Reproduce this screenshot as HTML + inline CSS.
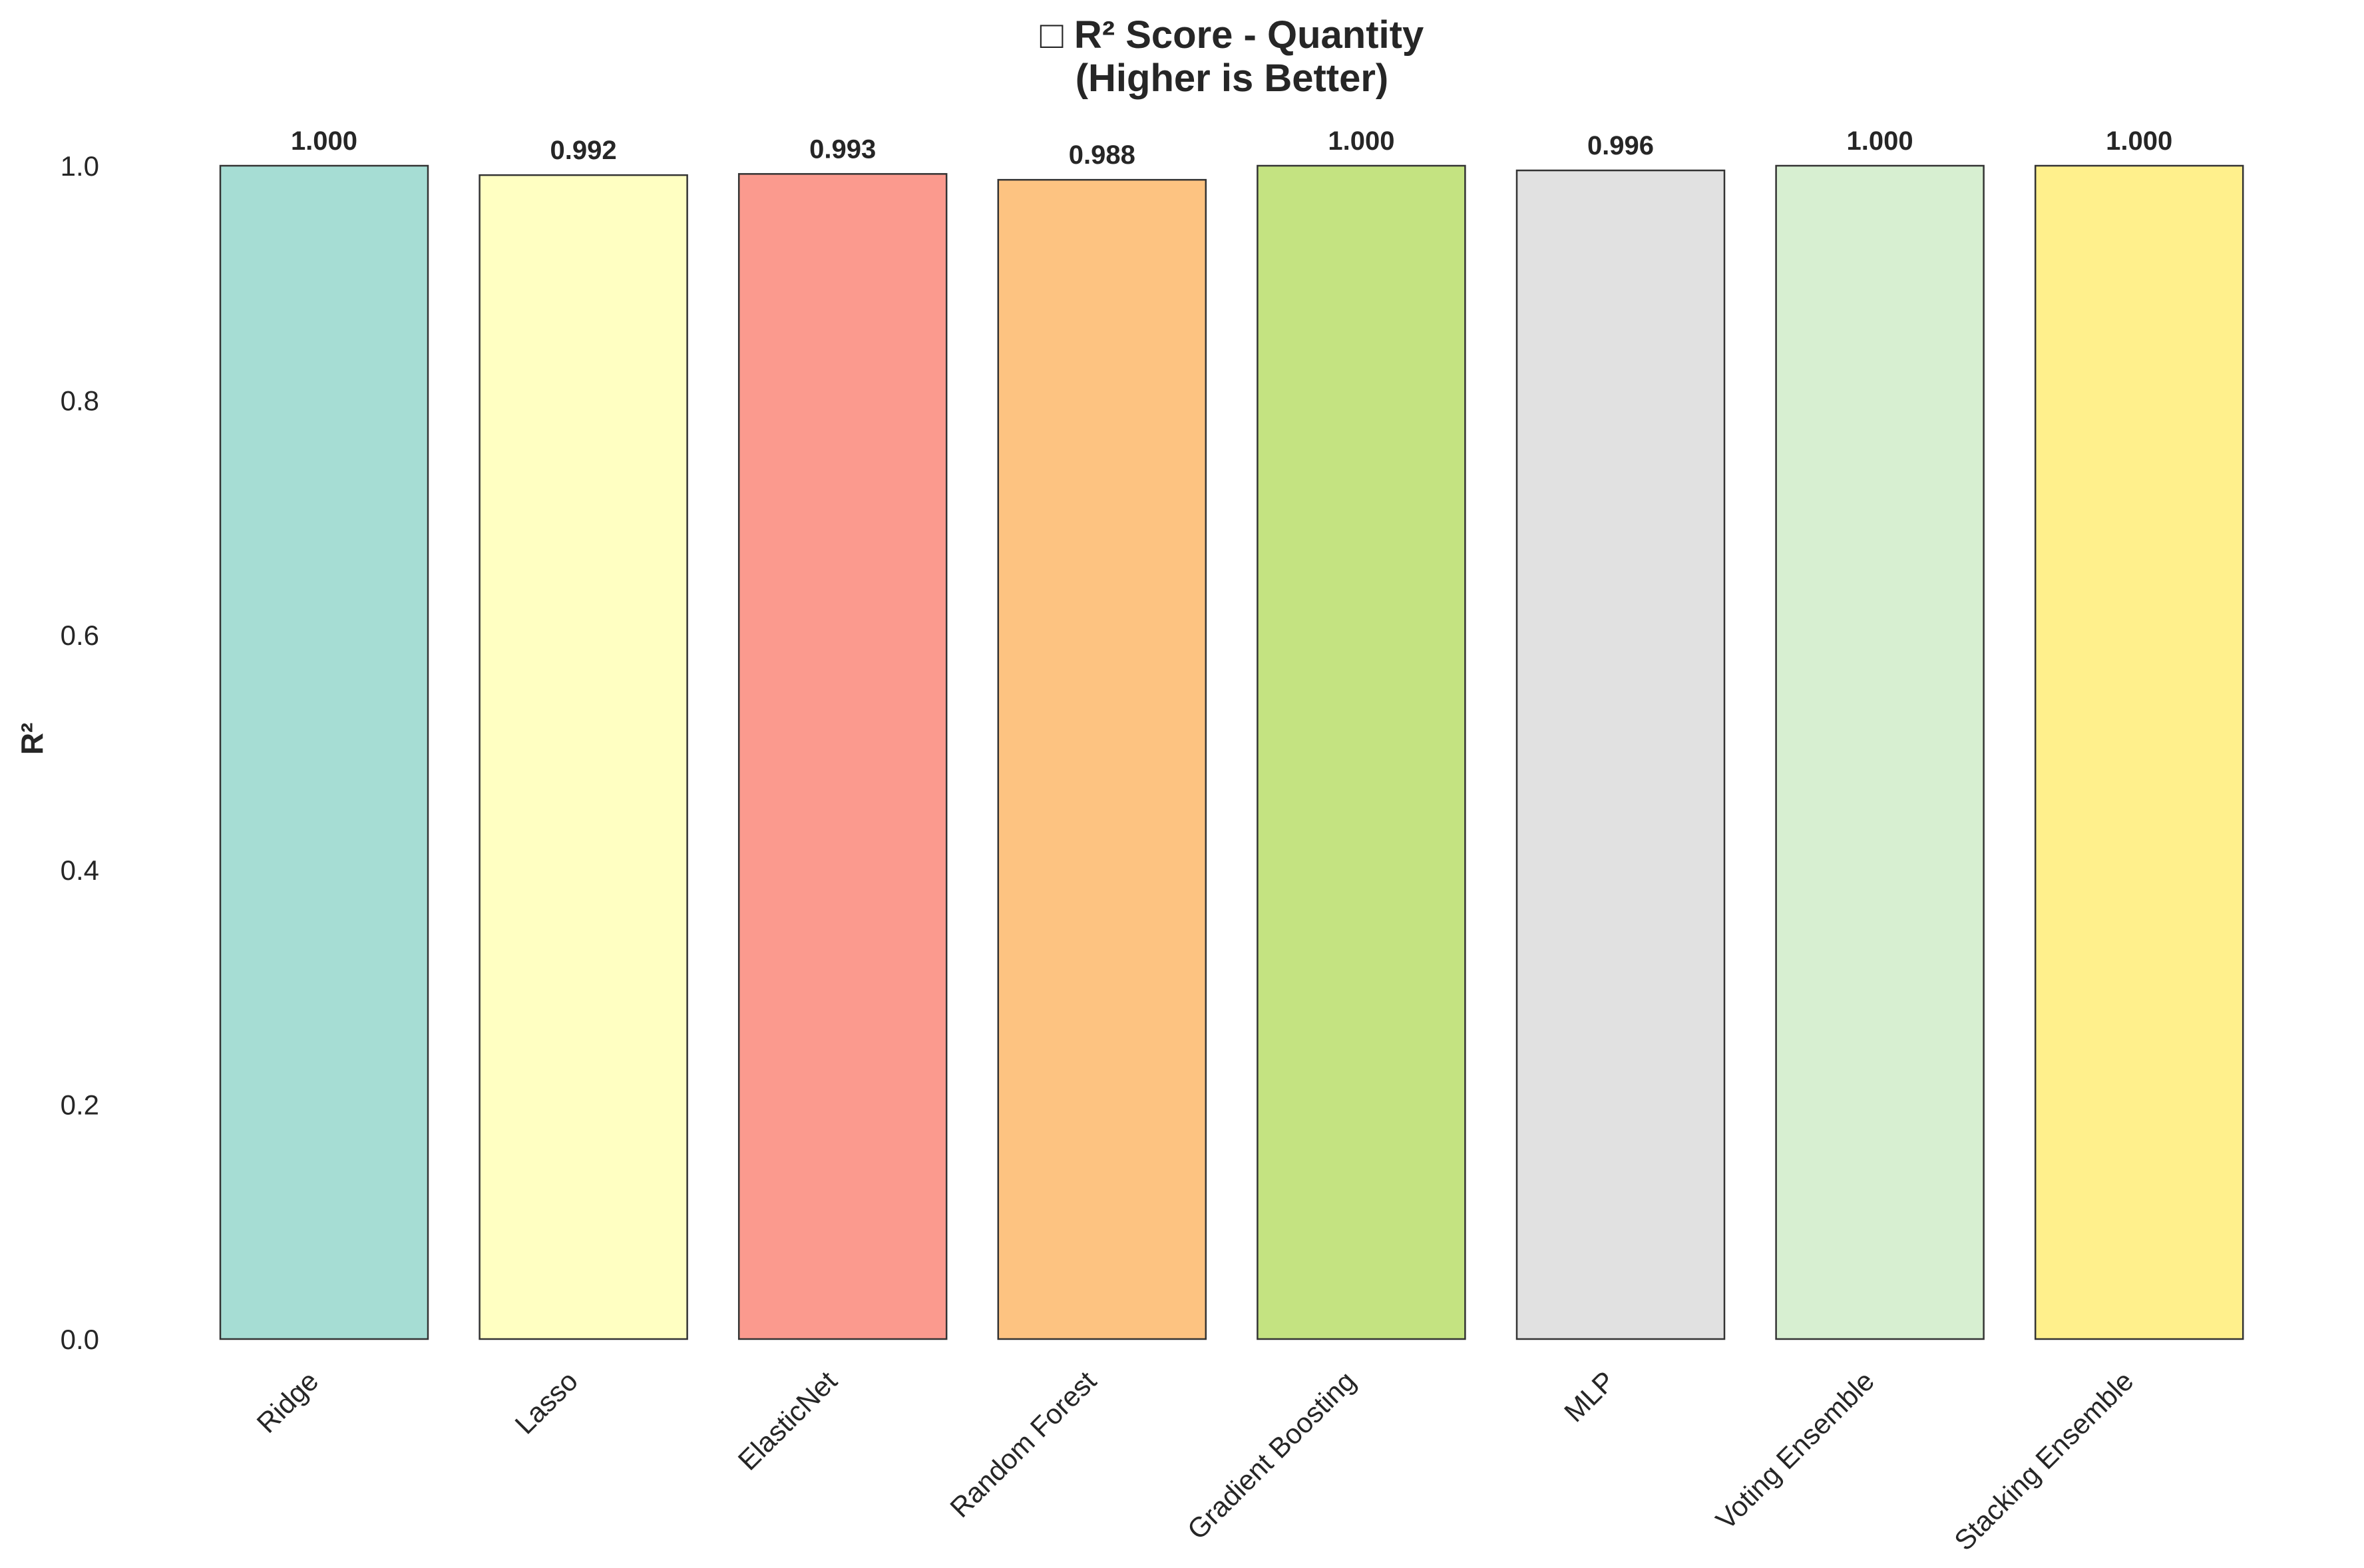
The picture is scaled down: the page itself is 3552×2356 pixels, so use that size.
<!DOCTYPE html>
<html><head><meta charset="utf-8"><style>
html,body{margin:0;padding:0;background:#fff;}
svg text{font-family:"Liberation Sans","DejaVu Sans",sans-serif;fill:#262626;}
</style></head><body>
<svg id="chart" width="3552" height="2351" viewBox="0 0 3552 2351" xmlns="http://www.w3.org/2000/svg">
<rect width="3552" height="2351" fill="#fff"/>
<text x="1851" y="72" text-anchor="middle" font-size="58" font-weight="bold">□ R² Score - Quantity</text>
<text x="1851" y="137" text-anchor="middle" font-size="58" font-weight="bold">(Higher is Better)</text>
<text transform="translate(64,1110) rotate(-90)" text-anchor="middle" font-size="46" font-weight="bold">R²</text>
<g id="yticks"></g>
<g id="bars"></g>
<g id="xlabels"></g>
</svg>
<script>
const categories = ["Ridge","Lasso","ElasticNet","Random Forest","Gradient Boosting","MLP","Voting Ensemble","Stacking Ensemble"];
const values = [1.000,0.992,0.993,0.988,1.000,0.996,1.000,1.000];
const valueLabels = ["1.000","0.992","0.993","0.988","1.000","0.996","1.000","1.000"];
const colors = ["#a6ddd4","#ffffc2","#fb9a8e","#fdc381","#c4e381","#e1e1e1","#d7efd1","#fff08c"];
const yTicks = [0,0.2,0.4,0.6,0.8,1.0];
const yTickLabels = ["0.0","0.2","0.4","0.6","0.8","1.0"];

const NS="http://www.w3.org/2000/svg";
const y0=2012, y1=249, firstCenter=487, step=389.6, barW=312;
function yScale(v){return y0-(y0-y1)*v;}
function xScale(i){return firstCenter+step*i;}
function mk(tag,attrs,parent){const e=document.createElementNS(NS,tag);for(const k in attrs)e.setAttribute(k,attrs[k]);parent.appendChild(e);return e;}

const yt=document.getElementById('yticks');
yTicks.forEach((t,i)=>{
  const e=mk('text',{x:149,y:yScale(t)+15,'text-anchor':'end','font-size':42},yt);
  
  
  e.textContent=yTickLabels[i];
});
const bg=document.getElementById('bars');
const xl=document.getElementById('xlabels');
categories.forEach((c,i)=>{
  const cx=xScale(i), top=yScale(values[i]);
  const r=mk('rect',{x:cx-barW/2,y:top,width:barW,height:y0-top,fill:colors[i],stroke:'#333',"stroke-width":2.5},bg);
  
  
  const v=mk('text',{x:cx,y:top-24,'text-anchor':'middle','font-size':40,'font-weight':'bold'},bg);
  
  
  v.textContent=valueLabels[i];
  const t=mk('text',{transform:`translate(${cx-6},2078) rotate(-45)`,'text-anchor':'end','font-size':42},xl);
  
  
  t.textContent=c;
});
</script>
</body></html>
